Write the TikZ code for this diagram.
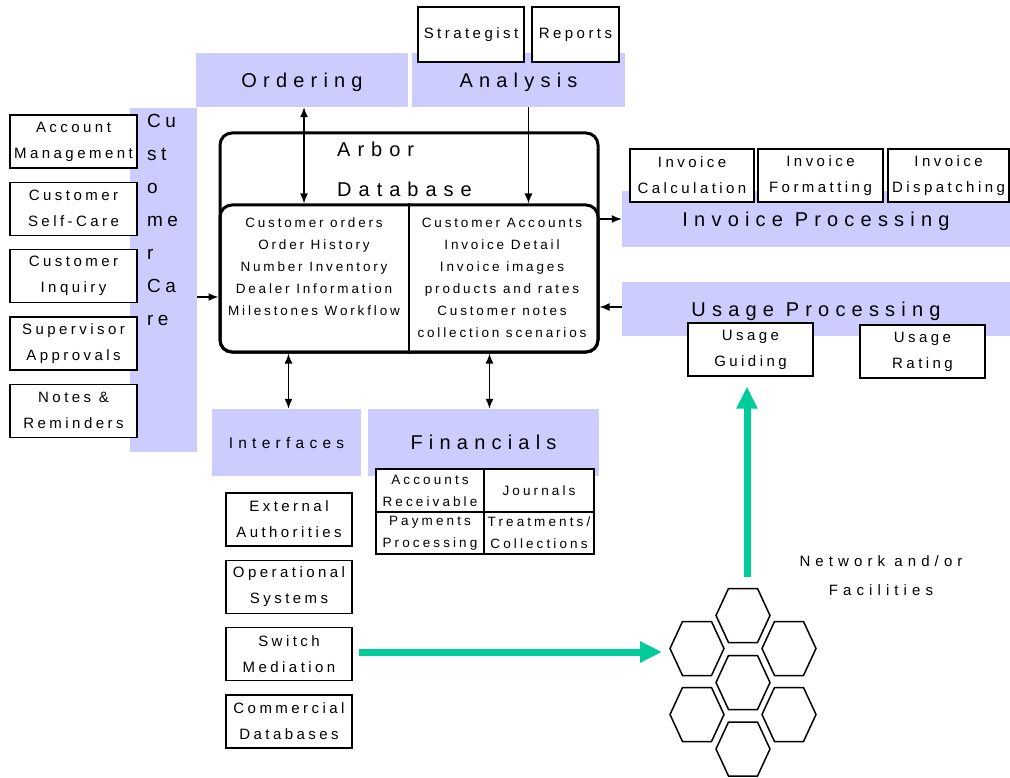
\documentclass[tikz,border=0pt]{standalone}
\usepackage{fontspec}
\setmainfont{Liberation Sans}
\newfontfamily\widesp[LetterSpace=31]{Liberation Sans}
\newfontfamily\titlesp[LetterSpace=35]{Liberation Sans}
\newfontfamily\midsp[LetterSpace=34]{Liberation Sans}
\newfontfamily\boxsp[LetterSpace=23]{Liberation Sans}
\newfontfamily\listsp[LetterSpace=21]{Liberation Sans}
\usepackage{tikz}
\usetikzlibrary{arrows.meta, positioning, calc}
\usepackage{xcolor}
\definecolor{lav}{HTML}{CCCCFF}
\definecolor{netgreen}{HTML}{00CC99}

\begin{document}
\begin{tikzpicture}[x=1pt, y=-1pt, node distance=13pt,
  band/.style={fill=lav, inner sep=0pt, text depth=0pt, font=\widesp\fontsize{20}{22}\selectfont},
  tag/.style={draw, fill=white, line width=1.3pt, inner sep=0pt, align=center,
    font=\boxsp\fontsize{15}{26}\selectfont},
  colbox/.style={tag, minimum width=127, minimum height=53},
  cell/.style={tag, font=\boxsp\fontsize{13.5}{22}\selectfont},
  dbbox/.style={draw, line width=3pt, rounded corners=12pt, inner sep=0pt, minimum width=378},
  link/.style={line width=1.5pt, -{Latex[length=10pt,width=8pt]}},
  both/.style={line width=1.5pt, {Latex[length=10pt,width=8pt]}-{Latex[length=10pt,width=8pt]}},
  net/.style={netgreen, line width=7pt, -{Triangle[length=22pt,width=20pt]}},
  hexline/.style={line width=1.5pt, line join=miter}
]
\useasboundingbox (0,0) rectangle (1010,778);

% top bands
\node[band, minimum width=212, minimum height=54] (ord) at (302,80) {Ordering};
\node[band, minimum width=213, minimum height=54] (ana) at (518.5,80) {Analysis};
\node[tag, minimum width=106, minimum height=55] (strat) at (471,34.5) {Strategist};
\node[tag, minimum width=87, minimum height=55] (rep) at (575.5,34.5) {Reports};

% customer care
\node[band, minimum width=67, minimum height=344] (cc) at (163.5,280) {};
\node[anchor=north west, align=left, inner sep=0pt, font=\boxsp\fontsize{19}{33}\selectfont]
  (cctext) at (147,114) {Cu\\st\\o\\me\\r\\Ca\\re};
\node[colbox] (acct) at (73.5,141.5) {Account\\Management};
\node[colbox, below=of acct] (self) {Customer\\Self-Care};
\node[colbox, below=of self] (inq) {Customer\\Inquiry};
\node[colbox, below=of inq] (sup) {Supervisor\\Approvals};
\node[colbox, below=of sup] (notes) {Notes \&\\Reminders};

% database
\node[dbbox, minimum height=219] (arbor) at (409,242.5) {};
\node[dbbox, minimum height=147] (dbcore) at (409,278.5) {};
\draw[line width=1.5pt] (dbcore.north) -- (dbcore.south);
\node[anchor=west, inner sep=0pt, font=\titlesp\fontsize{20}{22}\selectfont] (arbname) at (337,149) {Arbor};
\node[anchor=west, inner sep=0pt, font=\titlesp\fontsize{20}{22}\selectfont] (dbname) at (337,189) {Database};
\node[align=center, inner sep=0pt, font=\listsp\fontsize{13.5}{22}\selectfont] (ordlist) at (314,267)
  {Customer orders\\Order History\\Number Inventory\\Dealer Information\\Milestones Workflow};
\node[align=center, inner sep=0pt, font=\listsp\fontsize{13.5}{22}\selectfont] (acclist) at (502,278)
  {Customer Accounts\\Invoice Detail\\Invoice images\\products and rates\\Customer notes\\collection scenarios};

% invoice and usage
\node[band, minimum width=388, minimum height=56] (inv) at (816,219) {Invoice Processing};
\node[tag, minimum width=124, minimum height=53] (icalc) at (692,175.5) {Invoice\\Calculation};
\node[tag, minimum width=125, minimum height=53] (ifmt) at (820.5,175.5) {Invoice\\Formatting};
\node[tag, minimum width=121, minimum height=53] (idisp) at (948.5,175.5) {Invoice\\Dispatching};
\node[band, minimum width=388, minimum height=54] (usage) at (816,309) {Usage Processing};
\node[tag, minimum width=125, minimum height=53] (uguide) at (750.5,349.5) {Usage\\Guiding};
\node[tag, minimum width=125, minimum height=53] (urate) at (922.5,351.5) {Usage\\Rating};

% interfaces and financials
\node[band, minimum width=149, minimum height=67, font=\midsp\fontsize{15.5}{18}\selectfont] (intf) at (286.5,442.5) {Interfaces};
\node[band, minimum width=231, minimum height=67] (fin) at (483.5,442.5) {Financials};
\node[cell, minimum width=108, minimum height=43] (ar) at (430,490.5) {Accounts\\Receivable};
\node[cell, minimum width=110, minimum height=43] (jr) at (539,490.5) {Journals};
\node[cell, minimum width=108, minimum height=42] (pp) at (430,533) {Payments\\Processing};
\node[cell, minimum width=110, minimum height=42] (tc) at (539,533) {Treatments/\\Collections};
\node[tag, minimum width=126, minimum height=53] (ext) at (289,519.5) {External\\Authorities};
\node[tag, minimum width=126, minimum height=53, below=of ext] (ops) {Operational\\Systems};
\node[tag, minimum width=126, minimum height=53, below=of ops] (sw) {Switch\\Mediation};
\node[tag, minimum width=126, minimum height=53, below=of sw] (com) {Commercial\\Databases};

% network
\node[align=center, inner sep=0pt, font=\midsp\fontsize{15}{29}\selectfont] (netlabel) at (881,575.5) {Network and/or\\Facilities};
\foreach \cx/\cy in {743/615.5, 697/648.5, 789/648.5, 743/682.5, 697/714.5, 789/714.5, 743/749}
  \draw[hexline] (\cx,\cy) +(-27,0) -- +(-14.5,-27) -- +(14.5,-27) -- +(27,0) -- +(14.5,27) -- +(-14.5,27) -- cycle;
\coordinate (netW) at (662,652);
\coordinate (netN) at (747,577);

% connectors
\draw[both] ([xshift=2pt]ord.south) -- ([xshift=2pt]ord.south |- dbcore.north);
\draw[link] ([xshift=10pt]ana.south) -- ([xshift=10pt]ana.south |- dbcore.north);
\draw[link] ([yshift=-17pt]cc.east) -- ([yshift=-17pt]cc.east -| arbor.west);
\draw[link] (inv.west -| arbor.east) -- (inv.west);
\draw[link] ([yshift=2pt]usage.west) -- ([yshift=2pt]usage.west -| arbor.east);
\draw[both] ([xshift=2pt]intf.north |- arbor.south) -- ([xshift=2pt]intf.north);
\draw[both] ([xshift=6pt]fin.north |- arbor.south) -- ([xshift=6pt]fin.north);
\draw[net] ([xshift=6pt]sw.east |- netW) -- (netW);
\draw[net, shorten >=10pt] (netN) -- (netN |- uguide.south);
\end{tikzpicture}
\end{document}
